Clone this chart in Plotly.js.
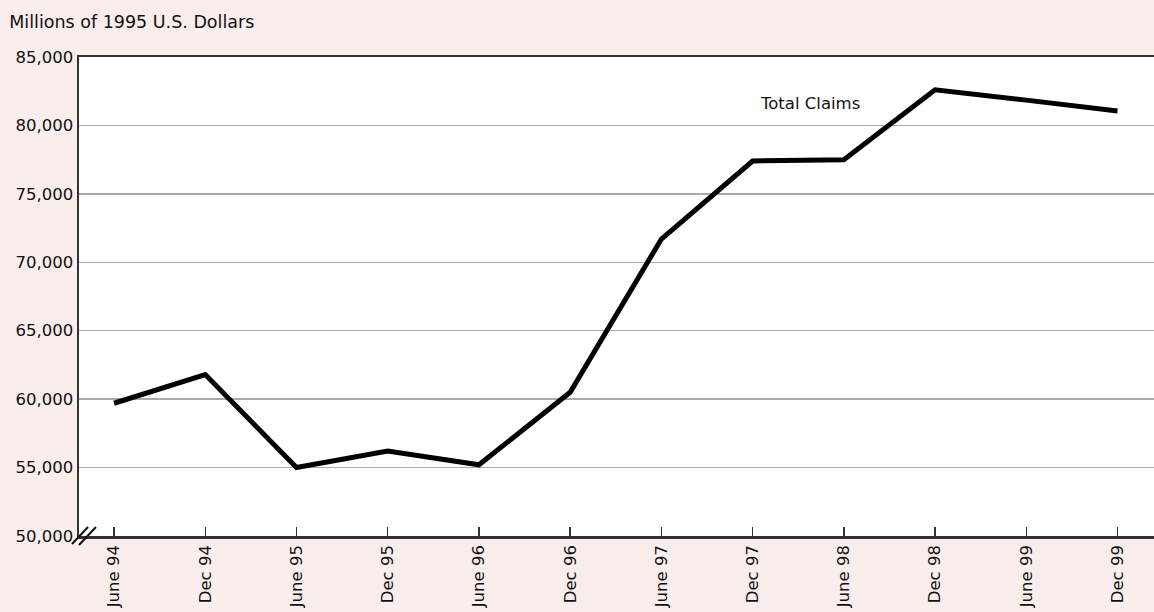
<!DOCTYPE html>
<html><head><meta charset="utf-8">
<script src="https://cdn.plot.ly/plotly-3.0.1.min.js"></script>
<style>html,body{margin:0;padding:0;background:#f9eeec;}</style>
</head><body>
<div id="chart" style="width:1154px;height:612px;"></div>
<script>
const periods = ["June 94","Dec 94","June 95","Dec 95","June 96","Dec 96","June 97","Dec 97","June 98","Dec 98","June 99","Dec 99"];
const totalClaims = [59700, 61800, 55000, 56200, 55200, 60500, 71700, 77400, 77500, 82600, 81850, 81050];
const yTicks = [50000, 55000, 60000, 65000, 70000, 75000, 80000, 85000];
const seriesLabel = "Total Claims";
const yUnit = "Millions of 1995 U.S. Dollars";

const idx = periods.map((_, i) => i);
const font = "DejaVu Sans, sans-serif";

const trace = {
  x: idx, y: totalClaims, type: 'scatter', mode: 'lines',
  line: {color: '#000', width: 5, shape: 'linear'},
  hoverinfo: 'skip', showlegend: false
};

const layout = {
  width: 1154, height: 612,
  paper_bgcolor: '#f9eeec', plot_bgcolor: '#ffffff',
  margin: {l: 79, r: 0, t: 57, b: 76},
  title: {text: yUnit, x: 0.008, xanchor: 'left', xref: 'container', y: 1 - 22/612, yanchor: 'middle', yref: 'container',
    font: {family: font, size: 17.5, color: '#111'}},
  xaxis: {
    range: [-0.384, 11.4], tickmode: 'array', tickvals: idx, ticktext: periods,
    tickangle: -90, ticks: 'inside', ticklen: 9, tickwidth: 1.5, tickcolor: '#333',
    showgrid: false, zeroline: false, showline: true, linecolor: '#333', linewidth: 2.5, mirror: true,
    tickfont: {family: font, size: 16.5, color: '#111'}
  },
  yaxis: {
    range: [50000, 85000], tickmode: 'array', tickvals: yTicks, ticktext: yTicks.map(v => v.toLocaleString('en-US')),
    ticks: '', showgrid: true, gridcolor: '#aaaaaa', gridwidth: 1.5, zeroline: false,
    showline: true, linecolor: '#333', linewidth: 2.5,
    tickfont: {family: font, size: 16.5, color: '#111'}
  },
  annotations: [{
    x: 7.06, y: 81600, xref: 'x', yref: 'y', text: seriesLabel, showarrow: false,
    xanchor: 'left', yanchor: 'middle', font: {family: font, size: 16.5, color: '#111'}
  }],
  shapes: [
    {type: 'line', xref: 'paper', yref: 'paper', x0: (72-79)/1075, y0: (536-544)/479, x1: (88-79)/1075, y1: (536-527)/479, line: {color: '#111', width: 2}},
    {type: 'line', xref: 'paper', yref: 'paper', x0: (79-79)/1075, y0: (536-545)/479, x1: (96-79)/1075, y1: (536-527)/479, line: {color: '#111', width: 2}}
  ]
};

Plotly.newPlot('chart', [trace], layout, {displayModeBar: false, staticPlot: true});
</script>
</body></html>
